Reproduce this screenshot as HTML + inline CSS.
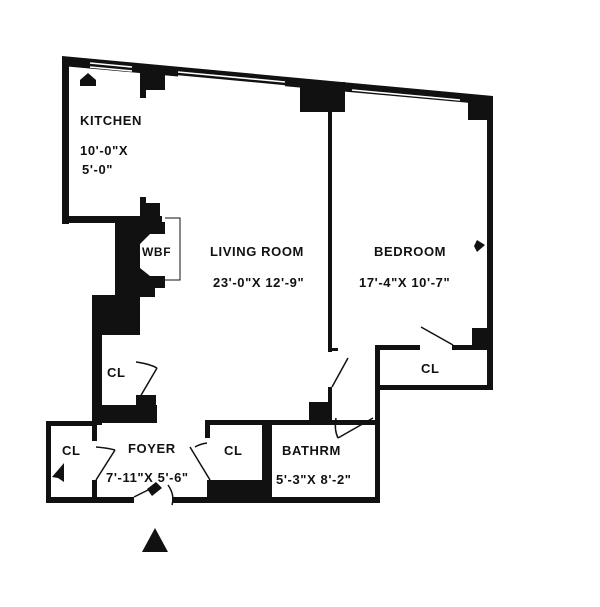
<!DOCTYPE html>
<html><head><meta charset="utf-8"><style>
html,body{margin:0;padding:0;background:#fff}
svg{display:block}
text{font-family:"Liberation Sans",Arial,sans-serif;font-weight:bold;font-size:13px;letter-spacing:0.6px;fill:#111}
</style></head><body>
<svg width="600" height="607" viewBox="0 0 600 607" xmlns="http://www.w3.org/2000/svg">
<g fill="#111" stroke="none">
<polygon points="62,56 493,96 493,105 62,66"/>
<rect x="62" y="58" width="7" height="166"/>
<rect x="62" y="216" width="100" height="7"/>
<rect x="140" y="70" width="25" height="20"/><rect x="140" y="88" width="6" height="10"/>
<rect x="300" y="82" width="45" height="30"/>
<rect x="468" y="98" width="25" height="22"/>
<rect x="140" y="197" width="6" height="20"/><rect x="140" y="203" width="20" height="18"/>
<polygon points="115,222 165,222 165,234 150,234 140,244 140,268 150,276 165,276 165,288 155,288 155,297 140,297 140,300 115,300"/>
<rect x="92" y="295" width="48" height="40"/>
<rect x="92" y="295" width="10" height="130"/>
<rect x="92" y="405" width="65" height="18"/>
<rect x="136" y="395" width="20" height="20"/>
<rect x="328" y="105" width="4" height="247"/>
<rect x="328" y="348" width="10" height="3"/>
<rect x="328" y="387" width="4" height="36"/>
<rect x="309" y="402" width="20" height="20"/>
<rect x="487" y="100" width="6" height="290"/>
<rect x="472" y="328" width="20" height="20"/>
<rect x="375" y="345" width="5" height="157"/>
<rect x="375" y="345" width="45" height="5"/>
<rect x="452" y="345" width="40" height="5"/>
<rect x="375" y="385" width="118" height="5"/>
<rect x="205" y="420" width="175" height="5"/>
<rect x="262" y="420" width="10" height="80"/>
<rect x="205" y="420" width="5" height="18"/>
<rect x="207" y="480" width="60" height="22"/>
<rect x="46" y="421" width="50" height="5"/>
<rect x="46" y="421" width="5" height="82"/>
<rect x="92" y="421" width="5" height="20"/>
<rect x="92" y="480" width="5" height="22"/>
<rect x="46" y="497" width="88" height="6"/>
<rect x="172" y="497" width="208" height="6"/>
<polygon points="80,80 88,73 96,80 96,86 80,86"/>
<polygon points="477,240 485,245 477,252 474,246"/>
<polygon points="58,470 64,463 64,482 58,478 52,477"/>
<polygon points="155,528 142,552 168,552"/>
<polygon points="147,489 156,482 162,488 152,496"/>
</g>
<g stroke="#fff" stroke-width="1.6" fill="none">
<line x1="90" y1="63" x2="132" y2="67"/>
<line x1="90" y1="67" x2="132" y2="71"/>
<line x1="178" y1="72" x2="285" y2="82"/>
<line x1="178" y1="76" x2="285" y2="86"/>
<line x1="352" y1="90" x2="460" y2="100"/>
<line x1="352" y1="94" x2="460" y2="104"/>
</g>
<path d="M165,218 H180 V280 H165" fill="none" stroke="#111" stroke-width="1"/>
<g stroke="#111" stroke-width="1.5" fill="none">
<line x1="140" y1="397" x2="157" y2="368"/>
<path d="M136,362 Q150,364 157,368"/>
<line x1="332" y1="387" x2="348" y2="358"/>
<line x1="338" y1="438" x2="373" y2="418"/>
<path d="M336,418 Q334,430 338,438"/>
<line x1="421" y1="327" x2="453" y2="345"/>
<line x1="96" y1="480" x2="115" y2="450"/>
<path d="M96,447 Q108,448 115,450"/>
<line x1="190" y1="447" x2="210" y2="480"/>
<path d="M195,447 Q200,444 207,443"/>
<line x1="134" y1="497" x2="152" y2="488"/>
<path d="M168,485 Q175,495 172,505"/>
</g>
<text x="80" y="125">KITCHEN</text>
<text x="80" y="155">10'-0"X</text>
<text x="82" y="174">5'-0"</text>
<text x="142" y="256" style="font-size:12px">WBF</text>
<text x="210" y="256">LIVING ROOM</text>
<text x="213" y="287">23'-0"X 12'-9"</text>
<text x="374" y="256">BEDROOM</text>
<text x="359" y="287">17'-4"X 10'-7"</text>
<text x="107" y="377">CL</text>
<text x="421" y="373">CL</text>
<text x="62" y="455">CL</text>
<text x="128" y="453">FOYER</text>
<text x="224" y="455">CL</text>
<text x="282" y="455">BATHRM</text>
<text x="106" y="482">7'-11"X 5'-6"</text>
<text x="276" y="484">5'-3"X 8'-2"</text>
</svg>
</body></html>
